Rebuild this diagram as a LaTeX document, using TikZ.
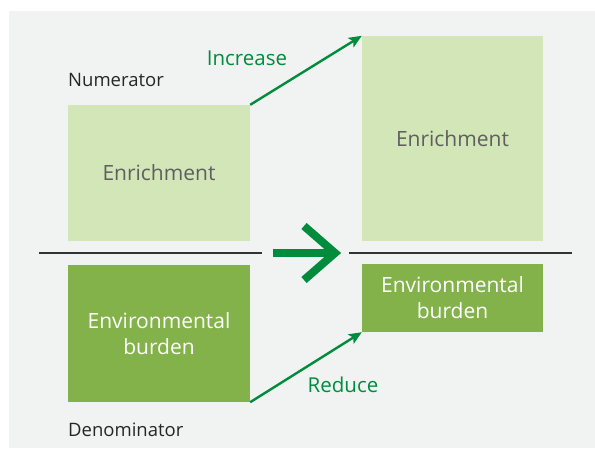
\documentclass[tikz,border=0pt]{standalone}
\usepackage{fontspec}
\setmainfont{Open Sans}
\usetikzlibrary{arrows.meta}
\definecolor{panelgray}{HTML}{F1F3F2}
\definecolor{lightgreen}{HTML}{D3E6B8}
\definecolor{darkgreen}{HTML}{84B24A}
\definecolor{arrowgreen}{HTML}{008C3C}
\definecolor{labelgray}{HTML}{5F5F5F}
\tikzset{
	upperbox/.style={rectangle, fill=lightgreen, inner sep=0pt, text=labelgray, font=\fontsize{21}{25}\selectfont},
	lowerbox/.style={rectangle, fill=darkgreen, inner sep=0pt, text=white, align=center, font=\fontsize{21}{26}\selectfont},
	changearrow/.style={arrowgreen, line width=2.4pt, -{Stealth[length=13pt, width=11pt, inset=3pt]}},
	changelabel/.style={text=arrowgreen, font=\fontsize{20.5}{24}\selectfont},
	rowlabel/.style={anchor=west, inner sep=0pt, text=black!85, font=\fontsize{18.5}{22}\selectfont},
}
\begin{document}
\begin{tikzpicture}[x=1pt, y=-1pt]
	\useasboundingbox (0, 0) rectangle (595, 448);
	\fill[white] (0, 0) rectangle (595, 448);
	\fill[panelgray] (9, 11) rectangle (595, 448);
	\node[upperbox, minimum width=182, minimum height=136] (enrL) at (159, 173) {Enrichment};
	\node[upperbox, minimum width=181, minimum height=205] (enrR) at (452.5, 138.5) {Enrichment};
	\node[lowerbox, minimum width=182, minimum height=137] (burL) at (159, 333.5) {Environmental\\burden};
	\node[lowerbox, minimum width=181, minimum height=68] (burR) at (452.5, 298) {Environmental\\burden};
	\node[rowlabel] (num) at (68, 80) {Numerator};
	\node[rowlabel] (den) at (68, 430) {Denominator};
	\node[changelabel] (inc) at (247, 58) {Increase};
	\node[changelabel] (red) at (343, 385) {Reduce};
	\coordinate (lineL1) at (39, 253);
	\coordinate (lineL2) at (262, 253);
	\coordinate (lineR1) at (349, 253);
	\coordinate (lineR2) at (572, 253);
	\coordinate (shaft) at (273, 253);
	\coordinate (tip) at (335, 253);
	\coordinate (armT) at (304, 226);
	\coordinate (armB) at (304, 280);
	\draw[black!80, line width=1.2pt] (lineL1) to (lineL2);
	\draw[black!80, line width=1.2pt] (lineR1) to (lineR2);
	\draw[arrowgreen, line width=8pt] (shaft) to (tip);
	\draw[arrowgreen, line width=8pt, miter limit=4] (armT) -- (tip) -- (armB);
	\draw[changearrow] (enrL.north east) to (enrR.north west);
	\draw[changearrow] (burL.south east) to (burR.south west);
\end{tikzpicture}
\end{document}
